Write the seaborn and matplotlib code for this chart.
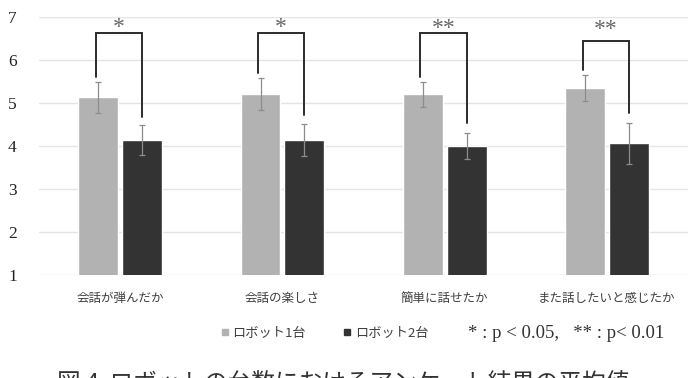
import matplotlib
matplotlib.use('Agg')
import matplotlib.pyplot as plt
from matplotlib.lines import Line2D
import seaborn as sns
import pandas as pd

# values
questions = ['会話が弾んだか', '会話の楽しさ', '簡単に話せたか', 'また話したいと感じたか']
conditions = ['ロボット1台', 'ロボット2台']
mean_1 = [5.13, 5.20, 5.20, 5.34]
mean_2 = [4.14, 4.14, 4.00, 4.06]
err_1 = [0.37, 0.37, 0.30, 0.30]
err_2 = [0.36, 0.37, 0.31, 0.47]
# bracket: top level, left foot, right foot
br_top = [6.63, 6.63, 6.63, 6.45]
br_left = [5.60, 5.70, 5.60, 5.77]
br_right = [4.67, 4.72, 4.53, 4.77]
stars = ['*', '*', '**', '**']
star_y = [6.62, 6.62, 6.60, 6.58]
colors = ['#b2b2b2', '#333333']

df = pd.DataFrame({
    'q': questions * 2,
    'cond': [conditions[0]] * 4 + [conditions[1]] * 4,
    'mean': mean_1 + mean_2,
    'err': err_1 + err_2,
})

sns.set_style('white')
plt.rcParams['font.family'] = ['Noto Sans CJK JP', 'DejaVu Sans']

fig = plt.figure(figsize=(6.92, 3.78), dpi=100)
ax = fig.add_axes([0.0564, 0.2725, 0.938, 0.6825])

sns.barplot(data=df, x='q', y='mean', hue='cond', palette=colors,
            width=0.54, gap=0.09, errorbar=None, legend=False, ax=ax)

bar_groups = list(ax.containers[:2])

# error bars at the bar centres
for i, bars in enumerate(bar_groups):
    xs = [b.get_x() + b.get_width() / 2 for b in bars]
    errs = err_1 if i == 0 else err_2
    means = mean_1 if i == 0 else mean_2
    ax.errorbar(xs, means, yerr=errs, fmt='none', ecolor='#8c8c8c',
                elinewidth=0.9, capsize=2, capthick=0.9, zorder=3)

# significance brackets
left_bars, right_bars = bar_groups
for k in range(len(questions)):
    xl = left_bars[k].get_x() + left_bars[k].get_width() / 2 - 0.015
    xr = right_bars[k].get_x() + right_bars[k].get_width() / 2
    ax.plot([xl, xl, xr, xr], [br_left[k], br_top[k], br_top[k], br_right[k]],
            color='#2b2b2b', lw=1.4, solid_joinstyle='miter', zorder=4,
            clip_on=False)
    ax.text((xl + xr) / 2, star_y[k], stars[k], ha='center', va='baseline',
            fontsize=17, color='#666666', family='Liberation Serif')

ax.set_ylim(1, 7)
ax.set_xlim(-0.5, 3.5)
ax.set_yticks(range(1, 8))
ax.grid(axis='y', color='#e4e4e4', lw=1)
ax.set_axisbelow(True)
sns.despine(ax=ax, left=True, bottom=True)
ax.set_xlabel('')
ax.set_ylabel('')
ax.tick_params(axis='both', length=0)
ax.tick_params(axis='y', pad=16)
ax.tick_params(axis='x', pad=12)
for t in ax.get_yticklabels():
    t.set_family('Liberation Serif')
    t.set_fontsize(12.5)
    t.set_color('#222222')
for t in ax.get_xticklabels():
    t.set_fontsize(9)
    t.set_color('#404040')

handles = [Line2D([], [], marker='s', ls='', color=c, markersize=5) for c in colors]
fig.legend(handles, conditions, loc='center left', bbox_to_anchor=(0.298, 0.119),
           ncol=2, frameon=False, fontsize=9.5, handletextpad=0.1,
           columnspacing=2.6, labelcolor='#404040', handlelength=1)
fig.text(0.676, 0.119, '* : p < 0.05,   ** : p< 0.01', ha='left', va='center',
         fontsize=13.5, color='#333333', family='Liberation Serif')

# caption, cut by the lower edge as in the source
fig.text(0.082, 0.013, '図 4  ロボットの台数におけるアンケート結果の平均値',
         ha='left', va='top', fontsize=17, color='#333333')

fig.savefig('out.png', dpi=100)
